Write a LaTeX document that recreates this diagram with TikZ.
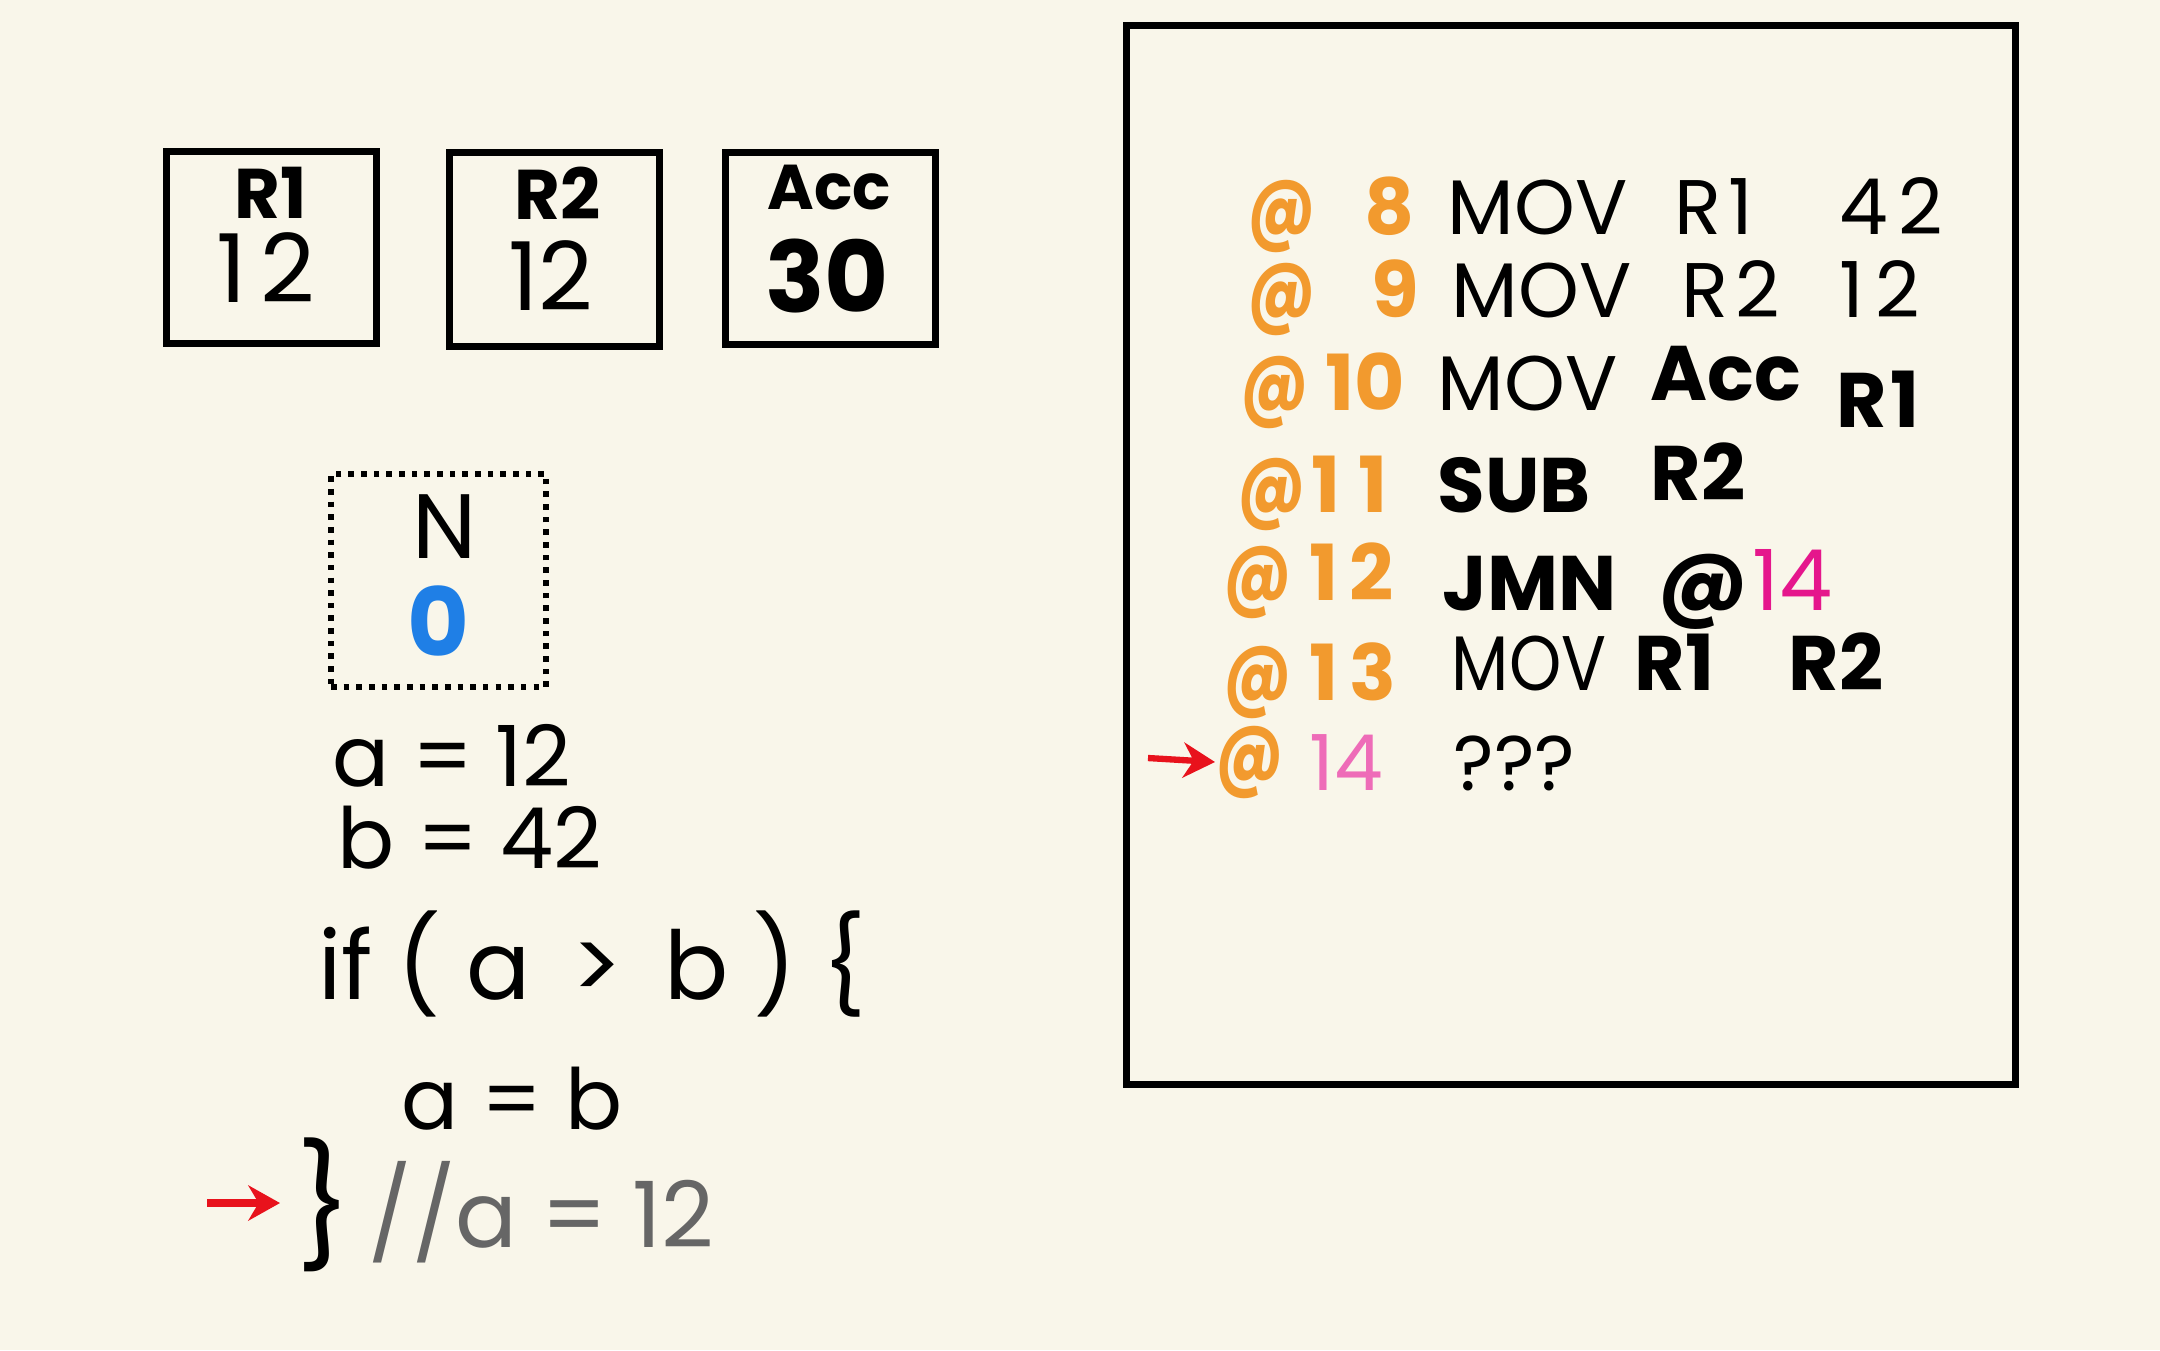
\documentclass[tikz,border=0pt]{standalone}
\usepackage{fontspec}
\setmainfont{Poppins}
\usetikzlibrary{arrows.meta}
\definecolor{bg}{HTML}{F9F6EA}
\definecolor{orng}{HTML}{F29A2E}
\definecolor{pinkA}{HTML}{E5168C}
\definecolor{pinkB}{HTML}{EE6CB8}
\definecolor{blueN}{HTML}{1F7FE6}
\definecolor{greyc}{HTML}{666666}
\definecolor{redA}{HTML}{E8121C}
\newcommand\myfs[1]{\fontsize{#1}{#1}\selectfont}
\newcommand\myat{\scalebox{0.82}[1.05]{@}}
\tikzset{
  regbox/.style={draw=black, line width=2pt, inner sep=0pt},
  reglabel/.style={inner sep=0pt, font=\myfs{20}\bfseries},
  regval/.style={inner sep=0pt, font=\myfs{27}},
  tok/.style={anchor=base west, inner sep=0pt, font=\myfs{22}},
  btok/.style={tok, font=\myfs{22}\bfseries},
  addr/.style={tok, text=orng, font=\myfs{22}\bfseries},
  code/.style={inner sep=0pt, font=\myfs{24}},
  redarrow/.style={draw=redA, line width=2.4pt, -{Stealth[length=9pt,width=10pt]}}
}
\begin{document}
\begin{tikzpicture}[x=0.01cm,y=-0.01cm]
\fill[bg] (0,0) rectangle (2160,1350);
\useasboundingbox (0,0) rectangle (2160,1350);

% registers
\node[regbox, minimum width=2.09cm, minimum height=1.91cm] (r1box) at (271.5,247.5) {};
\node[regbox, minimum width=2.09cm, minimum height=1.93cm] (r2box) at (554.5,249.5) {};
\node[regbox, minimum width=2.09cm, minimum height=1.91cm] (accbox) at (830.5,248.5) {};
\node[reglabel] (r1lab) at (271,193) {R1};
\node[regval] (r1val) at (266,268) {1\kern4pt 2};
\node[reglabel] (r2lab) at (558,193) {R2};
\node[regval] (r2val) at (551,276) {12};
\node[reglabel, font=\myfs{18}\bfseries] (acclab) at (829,188) {Acc};
\node[regval, font=\myfs{28}\bfseries] (accval) at (827,276) {30};

% flag N
\node[draw=black, dotted, line width=1.6pt, minimum width=2.15cm, minimum height=2.13cm, inner sep=0pt] (nbox) at (438.5,580.5) {};
\node[inner sep=0pt, font=\myfs{26}] (nlab) at (445,527) {N};
\node[inner sep=0pt, font=\myfs{27}\bfseries, text=blueN] (nval) at (438,621) {0};

% high-level code
\node[code] (la) at (452,756) {a = 12};
\node[code] (lb) at (470,838) {b = 42};
\node[code, font=\myfs{27}] (lif) at (592,964) {if ( a \,>\, b ) \{};
\node[code] (lab) at (512,1099) {a = b};
\node[inner sep=0pt, font=\myfs{34}] (lbrace) at (324,1205) {\}};
\node[inner sep=0pt, anchor=west, font=\myfs{26}, text=greyc] (lcom) at (368,1212) {//a = 12};
\coordinate (la1) at (207,1203);
\coordinate (la2) at (280,1203);
\draw[redarrow] (la1) -- (la2);

% memory
\node[draw=black, line width=2pt, minimum width=8.88cm, minimum height=10.58cm, inner sep=0pt] (mem) at (1571,555) {};

\node[addr] (a8) at (1247,234) {\myat};
\node[addr] (n8) at (1364,234) {8};
\node[tok] (i8a) at (1447,234) {MOV};
\node[tok] (i8b) at (1674,234) {R\kern2pt 1};
\node[tok] (i8c) at (1839,234) {4\kern3pt 2};

\node[addr] (a9) at (1247,317) {\myat};
\node[addr] (n9) at (1371,317) {9};
\node[tok] (i9a) at (1451,317) {MOV};
\node[tok] (i9b) at (1681,317) {R\kern2pt 2};
\node[tok] (i9c) at (1839,317) {1\kern3pt 2};

\node[addr] (a10) at (1240,410) {\myat};
\node[addr] (n10) at (1325,410) {10};
\node[tok] (i10a) at (1437,410) {MOV};
\node[btok] (i10b) at (1650,400) {Acc};
\node[btok] (i10c) at (1836,427) {R\kern1pt 1};

\node[addr] (a11) at (1237,512) {\myat};
\node[addr] (n11) at (1311,512) {1\kern5pt 1};
\node[btok] (i11a) at (1437,512) {SUB};
\node[btok] (i11b) at (1650,500) {R2};

\node[addr] (a12) at (1223,600) {\myat};
\node[addr] (n12) at (1309,600) {1\kern3pt 2};
\node[btok] (i12a) at (1442,610) {JMN};
\node[btok, font=\myfs{24}\bfseries] (i12b) at (1657,610) {@};
\node[tok, font=\myfs{24}, text=pinkA] (i12c) at (1752,610) {14};

\node[addr] (a13) at (1223,700) {\myat};
\node[addr] (n13) at (1309,700) {1\kern3pt 3};
\node[tok] (i13a) at (1451,690) {\scalebox{0.86}[1]{MOV}};
\node[btok] (i13b) at (1634,690) {R1};
\node[btok] (i13c) at (1788,690) {R2};

\node[addr] (a14) at (1215,780) {\myat};
\node[tok, text=pinkB] (n14) at (1309,790) {14};
\node[tok] (i14a) at (1453,790) {???};
\coordinate (ra1) at (1148,758);
\draw[redarrow, line width=1.8pt] (ra1) -- (a14.west);
\end{tikzpicture}
\end{document}
